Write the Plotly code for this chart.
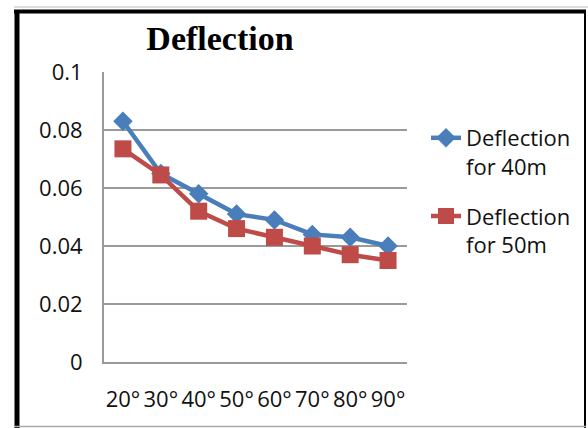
import plotly.graph_objects as go

categories = ["20°", "30°", "40°", "50°", "60°", "70°", "80°", "90°"]
defl_40m = [0.083, 0.065, 0.058, 0.051, 0.049, 0.044, 0.043, 0.040]
defl_50m = [0.0735, 0.0645, 0.052, 0.046, 0.043, 0.040, 0.037, 0.035]
y_ticks = [0, 0.02, 0.04, 0.06, 0.08, 0.1]
y_tick_labels = ["0", "0.02", "0.04", "0.06", "0.08", "0.1"]

W, H = 588, 428
L, R, T, B = 104, 407, 72, 362  # plot area in pixels


def px(x):
    return (x - L) / (R - L)


def py(y):
    return (B - y) / (B - T)


fig = go.Figure()
fig.add_trace(go.Scatter(
    x=categories, y=defl_40m, mode="lines+markers",
    name="Deflection<br>for 40m", legendgroup="a",
    line=dict(color="#4A7EBB", width=4.5),
    marker=dict(symbol="diamond", size=15, color="#4A7EBB"),
))
fig.add_trace(go.Scatter(
    x=categories, y=defl_50m, mode="lines+markers",
    name="Deflection<br>for 50m", legendgroup="b",
    line=dict(color="#BE4B48", width=4.5),
    marker=dict(symbol="square", size=17, color="#BE4B48"),
))

font = "Open Sans, Noto Sans, sans-serif"

fig.update_layout(
    width=W, height=H,
    margin=dict(l=L, r=W - R, t=T, b=H - B, pad=0),
    paper_bgcolor="white", plot_bgcolor="white",
    title=dict(text="<b>Deflection</b>", x=px(220), xref="paper", xanchor="center",
               y=1 - 38 / H, yref="container", yanchor="middle",
               font=dict(family="Liberation Serif, Times New Roman, serif", size=34, color="black")),
    legend=dict(x=px(426), y=py(117), xanchor="left", yanchor="top",
                font=dict(family=font, size=22, color="#111111"),
                valign="top", traceorder="grouped", tracegroupgap=18,
                bgcolor="rgba(0,0,0,0)"),
    xaxis=dict(type="category", range=[-0.5, 7.5], showgrid=False,
               showline=True, linecolor="#9a9a9a", linewidth=2,
               ticks="", tickfont=dict(family=font, size=22, color="#111111"),
               ticklabelstandoff=17, fixedrange=True),
    yaxis=dict(range=[0, 0.1], tickvals=y_ticks, ticktext=y_tick_labels,
               showgrid=True, gridcolor="#9a9a9a", gridwidth=2,
               showline=True, linecolor="#9a9a9a", linewidth=2, zeroline=False,
               ticks="", tickfont=dict(family=font, size=22, color="#111111"),
               ticklabelstandoff=15, fixedrange=True),
    shapes=[
        # chart frame
        dict(type="line", xref="paper", yref="paper", x0=px(17), x1=px(17), y0=py(11), y1=py(430),
             line=dict(color="black", width=5)),
        dict(type="line", xref="paper", yref="paper", x0=px(14), x1=px(586), y0=py(11.5), y1=py(11.5),
             line=dict(color="black", width=4)),
        dict(type="line", xref="paper", yref="paper", x0=px(14), x1=px(588), y0=py(7), y1=py(7),
             line=dict(color="#bbbbbb", width=1)),
        dict(type="line", xref="paper", yref="paper", x0=px(585), x1=px(585), y0=py(10), y1=py(428),
             line=dict(color="black", width=2)),
        dict(type="line", xref="paper", yref="paper", x0=px(14), x1=px(586), y0=py(426.5), y1=py(426.5),
             line=dict(color="#aaaaaa", width=1.5)),
    ],
)

fig.write_html("out.html", config={"displayModeBar": False},
               post_script="document.body.style.margin='0';")
